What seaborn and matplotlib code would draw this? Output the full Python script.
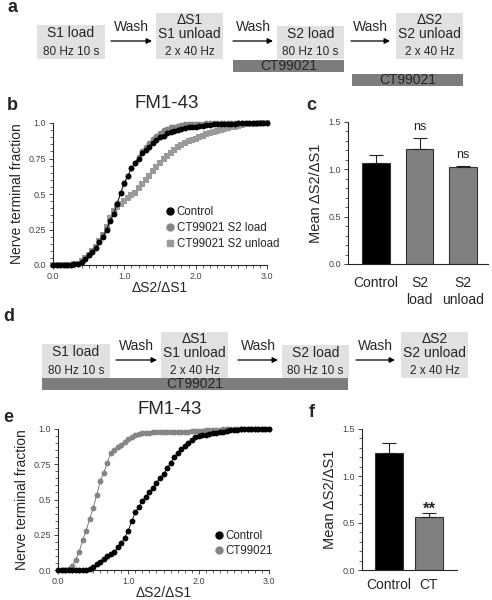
import numpy as np
import seaborn as sns
import matplotlib.pyplot as plt
from matplotlib.lines import Line2D
from matplotlib.patches import Rectangle
from matplotlib.ticker import MultipleLocator

W, H = 492, 600

# cumulative nerve terminal fraction, read every 0.05 of dS2/dS1 (0.0 .. 3.0)
BIN_STEP = 0.05
B_CONTROL = [0, 0, 0, 0, 0, 0, 0.005, 0.01, 0.02, 0.04,
             0.07, 0.09, 0.12, 0.16, 0.20, 0.25, 0.31, 0.36, 0.43, 0.51,
             0.58, 0.63, 0.68, 0.72, 0.75, 0.79, 0.81, 0.83, 0.86, 0.88,
             0.90, 0.91, 0.93, 0.94, 0.945, 0.95, 0.96, 0.965, 0.97, 0.975,
             0.975, 0.98, 0.98, 0.985, 0.985, 0.99, 0.99, 0.99, 0.99, 0.995,
             0.995, 0.995, 1, 1, 1, 1, 1, 1, 1, 1,
             1]
B_S2_LOAD = [0, 0, 0, 0, 0, 0, 0.005, 0.01, 0.03, 0.05,
             0.07, 0.10, 0.13, 0.17, 0.21, 0.26, 0.32, 0.38, 0.44, 0.51,
             0.57, 0.63, 0.68, 0.72, 0.76, 0.80, 0.83, 0.86, 0.89, 0.91,
             0.93, 0.95, 0.96, 0.97, 0.975, 0.98, 0.985, 0.99, 0.99, 0.99,
             0.995, 0.995, 0.995, 1, 1, 1, 1, 1, 1, 1,
             1, 1, 1, 1, 1, 1, 1, 1, 1, 1,
             1]
B_S2_UNLOAD = [0, 0, 0, 0, 0, 0, 0.005, 0.01, 0.03, 0.05,
               0.07, 0.10, 0.13, 0.17, 0.21, 0.27, 0.33, 0.38, 0.41, 0.43,
               0.45, 0.47, 0.49, 0.51, 0.54, 0.57, 0.60, 0.63, 0.66, 0.69,
               0.72, 0.75, 0.77, 0.79, 0.81, 0.83, 0.845, 0.86, 0.87, 0.88,
               0.89, 0.90, 0.91, 0.92, 0.93, 0.94, 0.945, 0.95, 0.96, 0.965,
               0.97, 0.975, 0.98, 0.985, 0.99, 0.99, 0.995, 0.995, 1, 1,
               1]
E_CONTROL = [0, 0, 0, 0, 0, 0, 0, 0, 0, 0.01,
             0.02, 0.04, 0.06, 0.08, 0.10, 0.11, 0.13, 0.16, 0.19, 0.23,
             0.28, 0.35, 0.41, 0.45, 0.49, 0.52, 0.55, 0.58, 0.62, 0.65,
             0.68, 0.72, 0.76, 0.80, 0.83, 0.86, 0.88, 0.90, 0.92, 0.94,
             0.95, 0.955, 0.96, 0.965, 0.97, 0.975, 0.98, 0.98, 0.985, 0.99,
             0.99, 0.995, 1, 1, 1, 1, 1, 1, 1, 1,
             1]
E_CT99021 = [0, 0, 0, 0.005, 0.03, 0.07, 0.13, 0.21, 0.28, 0.36,
             0.44, 0.53, 0.63, 0.69, 0.76, 0.83, 0.85, 0.87, 0.89, 0.91,
             0.93, 0.945, 0.955, 0.965, 0.97, 0.975, 0.975, 0.98, 0.98, 0.98,
             0.98, 0.98, 0.98, 0.98, 0.98, 0.98, 0.98, 0.98, 0.985, 0.985,
             0.985, 0.985, 0.99, 0.99, 0.99, 0.995, 0.995, 1, 1, 1,
             1, 1, 1, 1, 1, 1, 1, 1, 1, 1,
             1]

C_GROUPS = ['Control', 'S2\nload', 'S2\nunload']
C_MEANS = [1.07, 1.21, 1.02]
C_SEM = [0.08, 0.12, 0.02]
C_SIG = ['', 'ns', 'ns']

F_GROUPS = ['Control', 'CT']
F_MEANS = [1.25, 0.56]
F_SEM = [0.10, 0.05]
F_SIG = ['', '**']

sns.set_style('ticks')
plt.rcParams['font.family'] = ['Liberation Sans', 'DejaVu Sans']

BOX = '#e1e1e1'
CTBAR = '#7d7d7d'
GRAY = '#858585'
GRAY2 = '#9a9a9a'
TICKC = '#444444'

fig = plt.figure(figsize=(W / 100, H / 100), dpi=100)


def px_axes(l, t, r, b):
    return fig.add_axes([l / W, 1 - b / H, (r - l) / W, (b - t) / H])


# scheme drawings in pixel space
ax0 = fig.add_axes([0, 0, 1, 1])
ax0.set_xlim(0, W)
ax0.set_ylim(H, 0)
ax0.axis('off')


def scheme(dx, dy):
    boxes = [
        (37, 105, 25, [('S1 load', 33), ('80 Hz 10 s', 52)]),
        (156, 223, 13, [('ΔS1', 20), ('S1 unload', 34), ('2 x 40 Hz', 52)]),
        (277, 344, 26, [('S2 load', 34), ('80 Hz 10 s', 52)]),
        (396, 463, 13, [('ΔS2', 20), ('S2 unload', 34), ('2 x 40 Hz', 52)]),
    ]
    for x0, x1, y0, lines in boxes:
        ax0.add_patch(Rectangle((x0 + dx, y0 + dy), x1 - x0, 59 - y0,
                                color=BOX, lw=0))
        for txt, yy in lines:
            small = txt.endswith('Hz') or txt.endswith(' s')
            ax0.text((x0 + x1) / 2 + dx, yy + dy, txt, ha='center', va='center',
                     fontsize=8.5 if small else 10)
    for x0, x1 in [(111, 152), (233, 273), (351, 390)]:
        ax0.annotate('', xy=(x1 + dx, 41 + dy), xytext=(x0 + dx, 41 + dy),
                     arrowprops=dict(arrowstyle='-|>', color='black', lw=0.9,
                                     mutation_scale=8, shrinkA=0, shrinkB=0))
        ax0.text((x0 + x1) / 2 + dx, 27 + dy, 'Wash', ha='center', va='center',
                 fontsize=10)


def ct_bar(x0, x1, y0, y1):
    ax0.add_patch(Rectangle((x0, y0), x1 - x0, y1 - y0, color=CTBAR, lw=0))
    ax0.text((x0 + x1) / 2, (y0 + y1) / 2, 'CT99021', ha='center', va='center',
             fontsize=10)


scheme(0, 0)
ct_bar(233, 344, 60, 72)
ct_bar(352, 463, 74, 86)
scheme(5, 319)
ct_bar(42, 348, 378, 390)

for lab, x, y in [('a', 7, 12), ('b', 7, 110), ('c', 306, 110),
                  ('d', 3, 321), ('e', 3, 422), ('f', 309, 417)]:
    fig.text(x / W, 1 - y / H, lab, fontsize=13, fontweight='bold',
             ha='left', va='baseline')

xs = np.arange(len(B_CONTROL)) * BIN_STEP


def cdf_axes(ax):
    ax.set_xlim(0, 3)
    ax.set_ylim(0, 1)
    ax.set_xticks([0, 1, 2, 3], ['0.0', '1.0', '2.0', '3.0'])
    ax.set_yticks([0, 0.25, 0.5, 0.75, 1.0], ['0.0', '0.25', '0.5', '0.75', '1.0'])
    ax.xaxis.set_minor_locator(MultipleLocator(0.1))
    ax.yaxis.set_minor_locator(MultipleLocator(0.05))
    ax.tick_params(which='major', length=3, width=0.6, labelsize=6.5,
                   labelcolor=TICKC, pad=2)
    ax.tick_params(which='minor', length=2, width=0.5)
    ax.set_xlabel('ΔS2/ΔS1', fontsize=10, labelpad=0)
    ax.set_ylabel('Nerve terminal fraction', fontsize=10, labelpad=3)
    sns.despine(ax=ax)
    for s in ax.spines.values():
        s.set_linewidth(0.8)


def curve(ax, ys, color, marker, lc=None):
    sns.lineplot(x=xs, y=ys, ax=ax, color=lc or color, lw=0.6,
                 marker=marker, markersize=4.2, markerfacecolor=color,
                 markeredgewidth=0, clip_on=False, zorder=3)


# panel b
axb = px_axes(53, 123, 267, 265)
curve(axb, B_S2_UNLOAD, GRAY2, 's')
curve(axb, B_S2_LOAD, GRAY, 'o')
curve(axb, B_CONTROL, 'black', 'o')
cdf_axes(axb)
fig.text(167 / W, 1 - 103 / H, 'FM1-43', fontsize=13.5, ha='center', va='center')
hb = [Line2D([], [], ls='', marker='o', color='black', markersize=5),
      Line2D([], [], ls='', marker='o', color=GRAY, markersize=5),
      Line2D([], [], ls='', marker='s', color=GRAY2, markersize=5)]
axb.legend(hb, ['Control', 'CT99021 S2 load', 'CT99021 S2 unload'],
           loc='upper left', bbox_to_anchor=(165 / W, 1 - 206 / H),
           bbox_transform=fig.transFigure, frameon=False, fontsize=8.3,
           borderpad=0, borderaxespad=0, handlelength=0.8, handletextpad=0.2,
           labelspacing=0.36)

# panel e
axe = px_axes(58, 429, 269, 570)
curve(axe, E_CT99021, GRAY, 'o', lc='#666666')
curve(axe, E_CONTROL, 'black', 'o')
cdf_axes(axe)
fig.text(170 / W, 1 - 410 / H, 'FM1-43', fontsize=13.5, ha='center', va='center')
he = [Line2D([], [], ls='', marker='o', color='black', markersize=5),
      Line2D([], [], ls='', marker='o', color=GRAY, markersize=5)]
axe.legend(he, ['Control', 'CT99021'],
           loc='upper left', bbox_to_anchor=(214 / W, 1 - 530 / H),
           bbox_transform=fig.transFigure, frameon=False, fontsize=8.3,
           borderpad=0, borderaxespad=0, handlelength=0.8, handletextpad=0.2,
           labelspacing=0.28)


def bar_panel(ax, groups, means, sem, sig, width, xlim, sig_size, xpad):
    pal = ['black'] + ['#808080'] * (len(groups) - 1)
    sns.barplot(x=groups, y=means, hue=groups, palette=pal, legend=False,
                width=width, edgecolor='#333333', linewidth=0.8, ax=ax,
                errorbar=None)
    pos = np.arange(len(groups))
    ax.errorbar(pos, means, yerr=[np.zeros(len(means)), sem], fmt='none',
                ecolor='#222222', elinewidth=0.8, capsize=5, capthick=0.8,
                zorder=4)
    for p, m, s, t in zip(pos, means, sem, sig):
        if t:
            ax.annotate(t, (p, m + s), xytext=(0, 3.5 if t == 'ns' else -1),
                        textcoords='offset points', ha='center',
                        va='bottom' if t == 'ns' else 'baseline',
                        fontsize=sig_size,
                        fontweight='normal' if t == 'ns' else 'bold')
    ax.set_xlim(*xlim)
    ax.set_ylim(0, 1.5)
    ax.set_yticks([0, 0.5, 1.0, 1.5], ['0.0', '0.5', '1.0', '1.5'])
    ax.yaxis.set_minor_locator(MultipleLocator(0.1))
    ax.tick_params(axis='y', which='major', length=3, width=0.6, labelsize=6.5,
                   labelcolor=TICKC, pad=2)
    ax.tick_params(axis='y', which='minor', length=2, width=0.5)
    ax.tick_params(axis='x', length=0, labelsize=10, pad=xpad)
    ax.set_ylabel('Mean ΔS2/ΔS1', fontsize=10.5, labelpad=4)
    ax.set_xlabel('')
    sns.despine(ax=ax)
    for s in ax.spines.values():
        s.set_linewidth(0.8)


axc = px_axes(348, 122, 488, 264)
bar_panel(axc, C_GROUPS, C_MEANS, C_SEM, C_SIG, 0.64, (-0.64, 2.57), 9, 9)

axf = px_axes(362, 429, 457, 570)
bar_panel(axf, F_GROUPS, F_MEANS, F_SEM, F_SIG, 0.7, (-0.675, 1.7), 12, 6)

fig.savefig('out.png', dpi=100)
